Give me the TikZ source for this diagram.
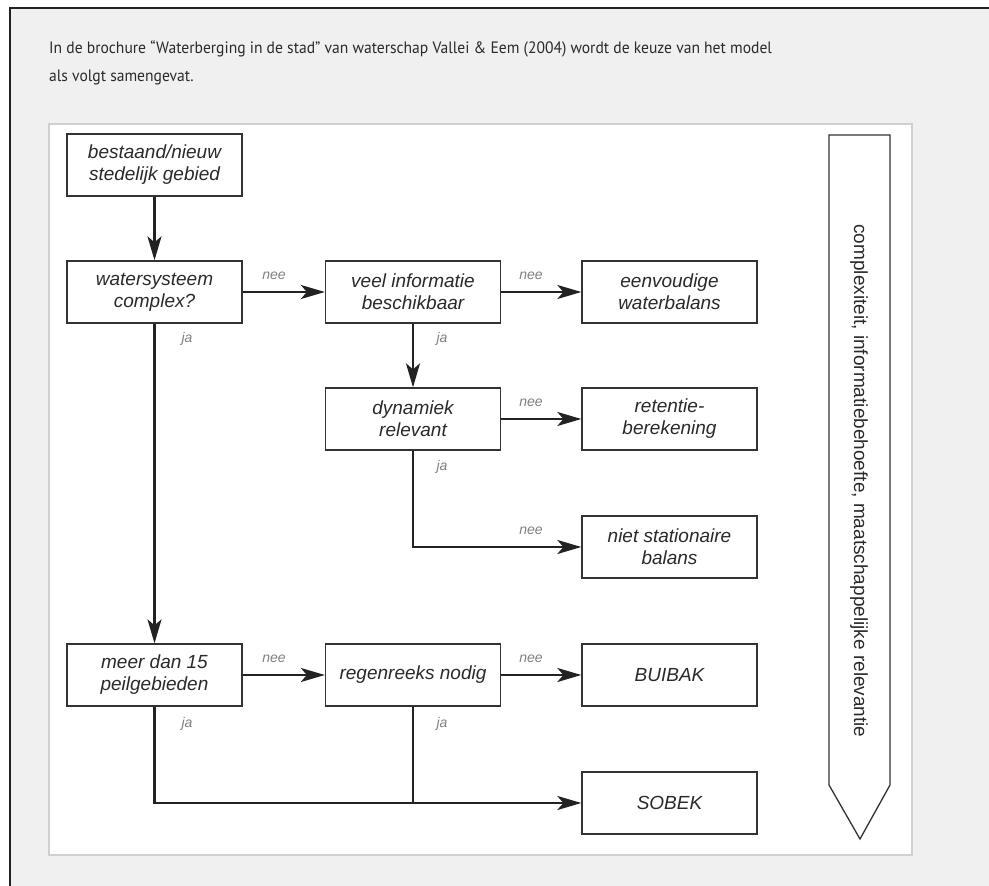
\documentclass[tikz,border=0pt]{standalone}
\usepackage{fontspec}
\setmainfont{Liberation Sans}
\newfontfamily\hdrfont[FakeStretch=0.945]{PT Sans}
\usetikzlibrary{arrows.meta}
\definecolor{bggray}{HTML}{F0F0F0}
\definecolor{panelline}{HTML}{D0D0D0}
\definecolor{boxline}{HTML}{333333}
\definecolor{arrowcol}{HTML}{222222}
\definecolor{labelcol}{HTML}{808080}
\definecolor{txtcol}{HTML}{2A2A2A}
\tikzset{
  x=1pt, y=-1pt,
  flowbox/.style={draw=boxline, line width=1.3pt, fill=white, minimum width=175pt,
    minimum height=62pt, inner sep=2pt, align=center, text=txtcol,
    font=\fontsize{19}{22}\selectfont\itshape},
  conn/.style={draw=arrowcol, line width=2.1pt},
  arr/.style={conn, -{Stealth[length=24pt, width=14pt, inset=6pt]}},
  lbl/.style={text=labelcol, font=\fontsize{14}{16}\selectfont\itshape, inner sep=0pt},
  hdr/.style={anchor=base west, inner sep=0pt, text=txtcol, font=\hdrfont\fontsize{16.5}{28}\selectfont}
}
\begin{document}
\begin{tikzpicture}
\useasboundingbox (0,0) rectangle (989,886);
\fill[white] (0,0) rectangle (989,886);
\fill[bggray] (10,8) rectangle (989,886);
\draw[arrowcol, line width=2.7pt] (10,886) -- (10,8) -- (989,8);
\node[hdr] (h1) at (49,53) {In de brochure “Waterberging in de stad” van waterschap Vallei \& Eem (2004) wordt de keuze van het model};
\node[hdr] (h2) at (49,81) {als volgt samengevat.};
\draw[panelline, line width=2pt, fill=white] (49,124) rectangle (912,855);

\node[flowbox] (b1) at (154.5,165) {bestaand/nieuw\\stedelijk gebied};
\node[flowbox] (b2) at (154.5,292) {watersysteem\\complex?};
\node[flowbox] (b3) at (413,292) {veel informatie\\beschikbaar};
\node[flowbox] (b4) at (669.5,292) {eenvoudige\\waterbalans};
\node[flowbox] (dyn) at (413,419) {dynamiek\\relevant};
\node[flowbox] (ret) at (669.5,419) {retentie-\\berekening};
\node[flowbox] (niet) at (669.5,547) {niet stationaire\\balans};
\node[flowbox] (meer) at (154.5,675) {meer dan 15\\peilgebieden};
\node[flowbox] (regen) at (413,675) {regenreeks nodig};
\node[flowbox] (bui) at (669.5,675) {BUIBAK};
\node[flowbox] (sobek) at (669.5,803) {SOBEK};

\draw[arr] (b1) -- (b2);
\draw[arr] (b2) -- (b3);
\draw[arr] (b3) -- (b4);
\draw[arr] (b3) -- (dyn);
\draw[arr] (dyn) -- (ret);
\draw[arr] (dyn.south) |- (niet.west);
\draw[arr] (b2) -- (meer);
\draw[arr] (meer) -- (regen);
\draw[arr] (regen) -- (bui);
\draw[arr] (meer.south) |- (sobek.west);
\coordinate (join) at (regen.south |- sobek.west);
\draw[conn] (regen.south) -- (join);

\node[lbl] (n1) at (274,276) {nee};
\node[lbl] (n2) at (531,276) {nee};
\node[lbl] (n3) at (531,403) {nee};
\node[lbl] (n4) at (531,531) {nee};
\node[lbl] (n5) at (274,659) {nee};
\node[lbl] (n6) at (531,659) {nee};
\node[lbl] (j1) at (187,339) {ja};
\node[lbl] (j2) at (442,339) {ja};
\node[lbl] (j3) at (442,467) {ja};
\node[lbl] (j4) at (187,724) {ja};
\node[lbl] (j5) at (442,724) {ja};

\draw[draw=boxline, line width=1.3pt, fill=white] (829,135) -- (890,135) -- (890,785) -- (860,839) -- (829,785) -- cycle;
\node[rotate=-90, text=txtcol, font=\fontsize{19}{22}\selectfont, inner sep=0pt] (side) at (859,481) {complexiteit, informatiebehoefte, maatschappelijke relevantie};
\end{tikzpicture}
\end{document}
